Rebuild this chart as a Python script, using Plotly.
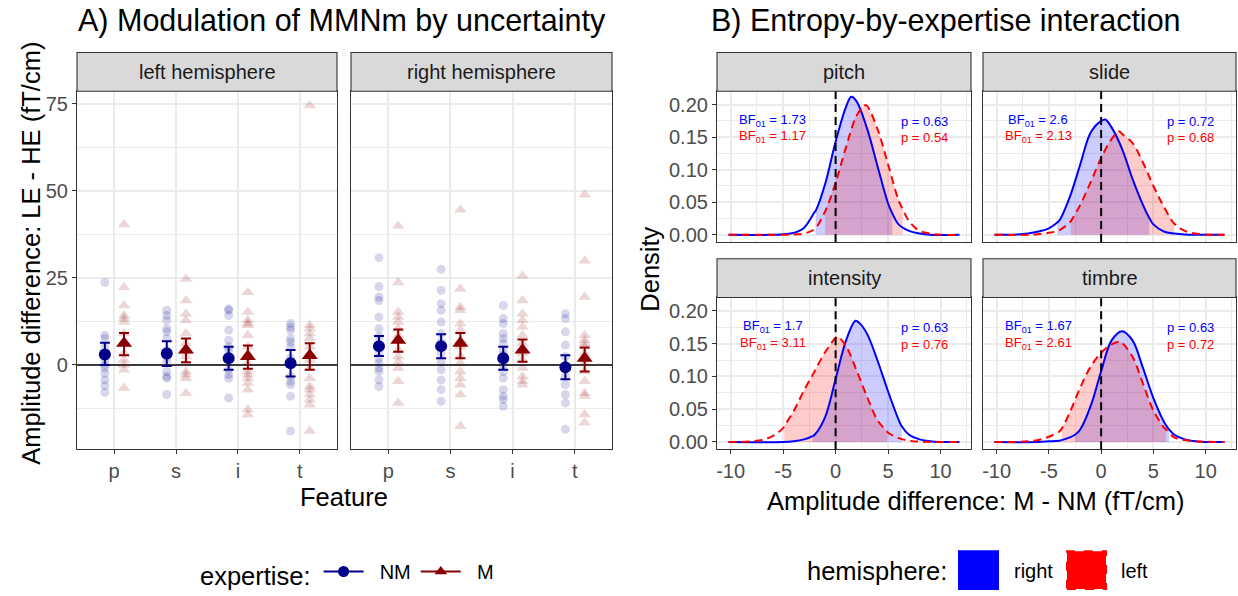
import plotly.graph_objects as go

W, H = 1238, 596
FONT = "Liberation Sans, Arial, sans-serif"

FEATURES = ["p", "s", "i", "t"]
HEMISPHERES = ["left hemisphere", "right hemisphere"]
EXPERTISE = ["NM", "M"]

# single participants, LE - HE (fT/cm); one list per feature p, s, i, t
NM_LEFT = [
    [23.7, 8.5, 7.6, 5.2, 2.8, 1.4, 0.0, -0.9, -2.4, -4.3, -6.0, -7.9],
    [15.7, 14.2, 12.8, 10.4, 9.5, 7.6, 4.3, 2.4, 0.9, -1.9, -3.3, -3.8, -8.5],
    [16.1, 15.7, 14.2, 10.0, 7.1, 5.2, 4.3, 1.9, -1.4, -2.8, -3.8, -9.5],
    [11.9, 10.9, 10.0, 7.6, 6.6, 5.2, 1.9, 0.0, -3.3, -4.7, -5.7, -9.0, -19.0],
]
M_LEFT = [
    [40.3, 22.3, 17.1, 14.2, 13.3, 12.3, 9.0, 6.2, 3.3, 1.4, 0.0, -1.4, -6.6],
    [24.7, 18.5, 14.7, 12.8, 9.0, 6.2, 3.8, 2.4, 0.5, -1.9, -2.8, -3.8, -8.1],
    [20.9, 15.2, 12.8, 11.9, 11.4, 8.5, 5.2, 3.3, 0.5, -1.9, -2.8, -3.8, -5.2, -7.1, -12.8, -14.2],
    [74.5, 11.4, 10.4, 9.0, 7.6, 5.2, 3.3, 1.4, -0.9, -3.8, -6.2, -7.1, -8.5, -10.0, -11.4, -19.0],
]
NM_RIGHT = [
    [30.8, 22.5, 19.5, 18.5, 13.8, 10.4, 8.1, 3.8, 1.9, 0.5, -0.9, -1.9, -4.3, -6.2],
    [27.5, 21.4, 17.6, 15.7, 12.3, 9.0, 6.6, 5.2, 3.3, 0.9, -1.4, -4.3, -7.1, -10.4],
    [17.1, 13.3, 11.9, 9.0, 7.6, 6.2, 4.3, 2.8, 0.0, -1.9, -3.8, -7.1, -9.0, -10.0, -11.9],
    [14.7, 13.3, 9.5, 5.7, 2.4, -3.3, -5.7, -8.5, -10.9, -18.5],
]
M_RIGHT = [
    [39.9, 23.7, 15.2, 13.8, 12.3, 10.4, 8.5, 7.1, 4.3, 2.4, 0.9, -0.9, -4.7, -10.9],
    [44.6, 21.8, 16.6, 15.7, 11.9, 10.0, 7.1, 5.2, 2.4, 0.5, -1.9, -3.8, -5.7, -8.5, -17.6],
    [25.6, 18.5, 14.7, 12.8, 10.9, 8.5, 6.2, 3.3, 1.4, -0.9, -3.3, -4.7, -5.7],
    [48.9, 29.9, 19.5, 8.5, 7.1, 6.2, 5.2, 3.3, 0.5, -1.9, -4.7, -8.1, -9.0, -14.2, -16.6],
]

# group means with error bar limits
NM_MEAN_LEFT = [3.0, 3.3, 1.9, 0.5]
NM_LOW_LEFT = [0.0, -0.3, -1.4, -3.3]
NM_HIGH_LEFT = [6.4, 6.8, 5.2, 4.3]
M_MEAN_LEFT = [6.2, 4.3, 2.4, 2.7]
M_LOW_LEFT = [2.8, 0.8, -1.1, -1.4]
M_HIGH_LEFT = [9.2, 7.6, 5.6, 6.2]
NM_MEAN_RIGHT = [5.4, 5.4, 1.9, -0.7]
NM_LOW_RIGHT = [2.6, 1.9, -1.4, -4.1]
NM_HIGH_RIGHT = [8.3, 8.8, 5.2, 2.8]
M_MEAN_RIGHT = [7.1, 6.2, 4.3, 1.9]
M_LOW_RIGHT = [3.8, 1.9, 0.9, -1.9]
M_HIGH_RIGHT = [10.2, 9.2, 7.3, 5.0]

# posterior densities of M - NM, right (blue) and left (red) hemisphere
FEATURE_NAMES = ["pitch", "slide", "intensity", "timbre"]

PITCH_R_X = [-10.2, -6, -5, -4, -3, -2, -1.9, -1, 0, 1, 1.5, 2, 3, 4, 5, 5.4, 6, 7, 8, 9, 11.8]
PITCH_R_Y = [0, 0, 0.001, 0.003, 0.011, 0.035, 0.037, 0.078, 0.143, 0.197, 0.212, 0.205, 0.163, 0.105, 0.048, 0.033, 0.016, 0.006, 0.002, 0, 0]
PITCH_L_X = [-10.2, -5, -4, -3, -2, -1, 0, 1, 2, 2.8, 3, 4, 5, 6, 6.4, 7, 8, 9, 10, 11.8]
PITCH_L_Y = [0, 0, 0.0005, 0.002, 0.009, 0.036, 0.080, 0.135, 0.183, 0.199, 0.198, 0.162, 0.108, 0.053, 0.039, 0.021, 0.006, 0.002, 0, 0]

SLIDE_R_X = [-10.2, -8, -7, -6, -5, -4.2, -4, -3, -2, -1, 0, 0.4, 1, 2, 3, 4, 4.6, 5, 6, 7, 8, 9, 11.8]
SLIDE_R_Y = [0, 0.0005, 0.002, 0.005, 0.010, 0.019, 0.022, 0.058, 0.108, 0.157, 0.175, 0.177, 0.165, 0.132, 0.086, 0.046, 0.026, 0.016, 0.005, 0.002, 0.0005, 0, 0]
SLIDE_L_X = [-10.2, -7, -6, -5, -4, -3, -2.9, -2, -1, 0, 1, 1.7, 2, 3, 4, 5, 6, 7, 8, 9, 10, 11.8]
SLIDE_L_Y = [0, 0, 0.001, 0.003, 0.007, 0.019, 0.021, 0.046, 0.081, 0.118, 0.147, 0.159, 0.155, 0.141, 0.111, 0.075, 0.043, 0.017, 0.006, 0.002, 0.0005, 0]

INTENSITY_R_X = [-10.2, -5, -4, -3, -2.2, -2, -1, 0, 1, 1.9, 2.3, 3, 4, 5, 6, 6.3, 7, 8, 9, 10, 11.8]
INTENSITY_R_Y = [0, 0, 0.001, 0.004, 0.009, 0.011, 0.038, 0.096, 0.155, 0.185, 0.181, 0.165, 0.124, 0.077, 0.034, 0.024, 0.011, 0.004, 0.001, 0, 0]
INTENSITY_L_X = [-10.2, -9, -8, -7, -6, -5, -4.9, -4, -3, -2, -1, 0, 0.2, 1, 2, 3, 4, 4.9, 5, 6, 7, 8, 11.8]
INTENSITY_L_Y = [0, 0, 0.001, 0.003, 0.009, 0.021, 0.024, 0.047, 0.079, 0.108, 0.137, 0.159, 0.161, 0.146, 0.109, 0.069, 0.033, 0.016, 0.014, 0.006, 0.002, 0.0005, 0]

TIMBRE_R_X = [-10.2, -6, -5, -4, -3, -2.5, -2, -1, 0, 1, 2, 3, 4, 5, 6, 6.5, 7, 8, 9, 10, 11.8]
TIMBRE_R_Y = [0, 0, 0.001, 0.002, 0.007, 0.011, 0.019, 0.055, 0.108, 0.155, 0.169, 0.155, 0.113, 0.067, 0.031, 0.019, 0.011, 0.004, 0.001, 0, 0]
TIMBRE_L_X = [-10.2, -8, -7, -6, -5, -4, -3.75, -3, -2, -1, 0, 1, 1.7, 2, 3, 4, 5, 6, 6.2, 7, 8, 9, 11.8]
TIMBRE_L_Y = [0, 0, 0.001, 0.003, 0.008, 0.016, 0.021, 0.045, 0.083, 0.115, 0.136, 0.149, 0.153, 0.151, 0.130, 0.089, 0.048, 0.022, 0.019, 0.007, 0.003, 0.001, 0]

# shaded intervals (pitch, slide, intensity, timbre)
RIGHT_FILL_LO = [-1.9, -4.2, -2.2, -2.5]
RIGHT_FILL_HI = [5.4, 4.6, 6.3, 6.5]
LEFT_FILL_LO = [-1.0, -2.9, -4.9, -3.75]
LEFT_FILL_HI = [6.4, 7.0, 4.9, 6.2]

BF_RIGHT = ["1.73", "2.6", "1.7", "1.67"]
BF_LEFT = ["1.17", "2.13", "3.11", "2.61"]
P_RIGHT = ["0.63", "0.72", "0.63", "0.63"]
P_LEFT = ["0.54", "0.68", "0.76", "0.72"]

NM_COL = "#00008B"
M_COL = "#8B0000"
GRID = "#EBEBEB"
BORDER = "#333333"
NBSP = "\u00a0"


def fx(p):
    return p / W


def fy(p):
    return 1 - p / H


def axis(**kw):
    a = dict(showline=True, mirror=True, linecolor=BORDER, linewidth=1.1,
             showgrid=True, gridcolor=GRID, gridwidth=1.5, zeroline=False,
             ticks="outside", ticklen=4, tickwidth=1.1, tickcolor=BORDER,
             tickfont=dict(size=20, color="#4D4D4D", family=FONT))
    a.update(kw)
    return a


fig = go.Figure()

# ---- panel A ----
groups = [
    (NM_LEFT, M_LEFT, NM_MEAN_LEFT, NM_LOW_LEFT, NM_HIGH_LEFT, M_MEAN_LEFT, M_LOW_LEFT, M_HIGH_LEFT),
    (NM_RIGHT, M_RIGHT, NM_MEAN_RIGHT, NM_LOW_RIGHT, NM_HIGH_RIGHT, M_MEAN_RIGHT, M_LOW_RIGHT, M_HIGH_RIGHT),
]
for h, (nm_pts, m_pts, nm_mean, nm_lo, nm_hi, m_mean, m_lo, m_hi) in enumerate(groups):
    xa = "x" if h == 0 else "x2"
    ya = "y" if h == 0 else "y2"
    # zero reference line
    fig.add_trace(go.Scatter(x=[0.4, 4.6], y=[0, 0], mode="lines", xaxis=xa, yaxis=ya,
                             line=dict(color="black", width=1.6), showlegend=False,
                             hoverinfo="skip"))
    for pts, off, col, sym, size in [(nm_pts, -0.15, NM_COL, "circle", 9),
                                     (m_pts, 0.16, M_COL, "triangle-up", 11)]:
        xs, ys = [], []
        for i, vals in enumerate(pts):
            xs += [i + 1 + off] * len(vals)
            ys += vals
        fig.add_trace(go.Scatter(x=xs, y=ys, mode="markers", xaxis=xa, yaxis=ya,
                                 marker=dict(color=col, symbol=sym, size=size, opacity=0.16),
                                 showlegend=False, hoverinfo="y"))
    for mean, lo, hi, off, col, sym, size in [(nm_mean, nm_lo, nm_hi, -0.15, NM_COL, "circle", 12),
                                              (m_mean, m_lo, m_hi, 0.16, M_COL, "triangle-up", 14)]:
        fig.add_trace(go.Scatter(
            x=[i + 1 + off for i in range(len(mean))], y=mean, mode="markers",
            xaxis=xa, yaxis=ya, showlegend=False,
            marker=dict(color=col, symbol=sym, size=size),
            error_y=dict(type="data", symmetric=False,
                         array=[b - m for m, b in zip(mean, hi)],
                         arrayminus=[m - a for m, a in zip(mean, lo)],
                         color=col, thickness=2, width=5)))

# legend entries for expertise
for name, col, sym in [("NM", NM_COL, "circle"), ("M", M_COL, "triangle-up")]:
    fig.add_trace(go.Scatter(x=[None], y=[None], mode="lines+markers", name=NBSP * 2 + name,
                             line=dict(color=col, width=2),
                             marker=dict(color=col, symbol=sym, size=11)))

# ---- panel B ----
curves = [
    (PITCH_R_X, PITCH_R_Y, PITCH_L_X, PITCH_L_Y),
    (SLIDE_R_X, SLIDE_R_Y, SLIDE_L_X, SLIDE_L_Y),
    (INTENSITY_R_X, INTENSITY_R_Y, INTENSITY_L_X, INTENSITY_L_Y),
    (TIMBRE_R_X, TIMBRE_R_Y, TIMBRE_L_X, TIMBRE_L_Y),
]
for k, (rx, ry, lx, ly) in enumerate(curves):
    xa, ya = "x%d" % (k + 3), "y%d" % (k + 3)
    for cx, cy, lo, hi, fc in [(rx, ry, RIGHT_FILL_LO[k], RIGHT_FILL_HI[k], "rgba(0,0,255,0.2)"),
                               (lx, ly, LEFT_FILL_LO[k], LEFT_FILL_HI[k], "rgba(255,0,0,0.2)")]:
        sel = [(a, b) for a, b in zip(cx, cy) if lo <= a <= hi]
        fig.add_trace(go.Scatter(x=[a for a, _ in sel], y=[b for _, b in sel], xaxis=xa, yaxis=ya,
                                 mode="lines", fill="tozeroy", fillcolor=fc,
                                 line=dict(width=0, shape="spline"), showlegend=False,
                                 hoverinfo="skip"))
    fig.add_trace(go.Scatter(x=rx, y=ry, xaxis=xa, yaxis=ya, mode="lines", showlegend=False,
                             line=dict(color="#0000FF", width=2, shape="spline")))
    fig.add_trace(go.Scatter(x=lx, y=ly, xaxis=xa, yaxis=ya, mode="lines", showlegend=False,
                             line=dict(color="#FF0000", width=2, shape="spline", dash="8px,5px")))

# ---- layout ----
A_Y = [92, 453]
panels_a = [(77, 337), (351, 612)]
panels_b = [((717, 971), (92, 244)), ((983, 1236), (92, 244)),
            ((717, 971), (300, 453)), ((983, 1236), (300, 453))]

lay = {}
for h, (x0, x1) in enumerate(panels_a):
    sx = "" if h == 0 else "2"
    lay["xaxis" + sx] = axis(domain=[fx(x0), fx(x1)], anchor="y" + sx, range=[0.4, 4.6],
                             tickvals=[1, 2, 3, 4], ticktext=FEATURES)
    lay["yaxis" + sx] = axis(domain=[fy(A_Y[1]), fy(A_Y[0])], anchor="x" + sx, range=[-24.2, 78.6],
                             tickvals=[0, 25, 50, 75],
                             minor=dict(dtick=12.5, tick0=0, showgrid=True, gridcolor=GRID,
                                        gridwidth=0.8, ticks=""),
                             showticklabels=(h == 0), ticks="outside" if h == 0 else "")

dx = [-10, -5, 0, 5, 10]
dy = [0, 0.05, 0.10, 0.15, 0.20]
for k, ((x0, x1), (y0, y1)) in enumerate(panels_b):
    n = str(k + 3)
    bottom = k >= 2
    left = k % 2 == 0
    lay["xaxis" + n] = axis(domain=[fx(x0), fx(x1)], anchor="y" + n, range=[-11.3, 12.9],
                            tickvals=dx, ticktext=[str(v) for v in dx],
                            minor=dict(dtick=2.5, tick0=0, showgrid=True, gridcolor=GRID,
                                       gridwidth=0.8, ticks=""),
                            showticklabels=bottom, ticks="outside" if bottom else "")
    lay["yaxis" + n] = axis(domain=[fy(y1), fy(y0)], anchor="x" + n, range=[-0.011, 0.2205],
                            tickvals=dy, ticktext=["%.2f" % v for v in dy],
                            minor=dict(dtick=0.025, tick0=0, showgrid=True, gridcolor=GRID,
                                       gridwidth=0.8, ticks=""),
                            showticklabels=left, ticks="outside" if left else "")

shapes, annotations = [], []

# strips
strips = [((77, 337), (53, 92), HEMISPHERES[0]), ((351, 612), (53, 92), HEMISPHERES[1])]
for k, ((x0, x1), (y0, y1)) in enumerate(panels_b):
    strips.append(((x0, x1), (y0 - 39, y0), FEATURE_NAMES[k]))
for (x0, x1), (y0, y1), label in strips:
    shapes.append(dict(type="rect", xref="paper", yref="paper", x0=fx(x0), x1=fx(x1),
                       y0=fy(y1), y1=fy(y0), fillcolor="#D9D9D9",
                       line=dict(color=BORDER, width=1.1), layer="above"))
    annotations.append(dict(xref="paper", yref="paper", x=fx((x0 + x1) / 2), y=fy((y0 + y1) / 2),
                            text=label, showarrow=False, xanchor="center", yanchor="middle",
                            font=dict(size=20, color="#1A1A1A", family=FONT)))

# x = 0 in panel B, with Bayes factors and p values
for k in range(4):
    n = str(k + 3)
    shapes.append(dict(type="line", xref="x" + n, yref="y" + n + " domain", x0=0, x1=0,
                       y0=0, y1=1, line=dict(color="black", width=2, dash="8px,5px"),
                       layer="above"))
    annotations += [
        dict(xref="x" + n, yref="y" + n, x=-6, y=0.176, text="BF<sub>01</sub> = " + BF_RIGHT[k],
             showarrow=False, font=dict(size=13, color="#0000FF", family=FONT)),
        dict(xref="x" + n, yref="y" + n, x=-6, y=0.151, text="BF<sub>01</sub> = " + BF_LEFT[k],
             showarrow=False, font=dict(size=13, color="#FF0000", family=FONT)),
        dict(xref="x" + n, yref="y" + n, x=8.5, y=0.174, text="p = " + P_RIGHT[k],
             showarrow=False, font=dict(size=13, color="#0000FF", family=FONT)),
        dict(xref="x" + n, yref="y" + n, x=8.5, y=0.149, text="p = " + P_LEFT[k],
             showarrow=False, font=dict(size=13, color="#FF0000", family=FONT)),
    ]

# titles
txt = dict(size=25.5, color="black", family=FONT)
annotations += [
    dict(xref="paper", yref="paper", x=fx(76), y=fy(21), xanchor="left", yanchor="middle",
         text="A) Modulation of MMNm by uncertainty", showarrow=False,
         font=dict(size=30.5, color="black", family=FONT)),
    dict(xref="paper", yref="paper", x=fx(709), y=fy(21), xanchor="left", yanchor="middle",
         text="B) Entropy-by-expertise interaction", showarrow=False,
         font=dict(size=30.5, color="black", family=FONT)),
    dict(xref="paper", yref="paper", x=fx(31), y=fy(256), text="Amplitude difference: LE - HE (fT/cm)",
         textangle=-90, showarrow=False, font=txt, xanchor="center", yanchor="middle"),
    dict(xref="paper", yref="paper", x=fx(344), y=fy(501), text="Feature",
         showarrow=False, font=txt, xanchor="center", yanchor="middle"),
    dict(xref="paper", yref="paper", x=fx(650), y=fy(272), text="Density",
         textangle=-90, showarrow=False, font=txt, xanchor="center", yanchor="middle"),
    dict(xref="paper", yref="paper", x=fx(976), y=fy(505), text="Amplitude difference: M - NM (fT/cm)",
         showarrow=False, font=txt, xanchor="center", yanchor="middle"),
]

# hemisphere legend
annotations.append(dict(xref="paper", yref="paper", x=fx(805), y=fy(576), xanchor="left",
                        yanchor="middle", text="hemisphere:", showarrow=False, font=txt))
for (x0, x1), col, dash, label, lx in [((959, 998), "#0000FF", "solid", "right", 1012),
                                       ((1067, 1106), "#FF0000", "dash", "left", 1119)]:
    shapes.append(dict(type="rect", xref="paper", yref="paper", x0=fx(x0), x1=fx(x1),
                       y0=fy(594), y1=fy(556), fillcolor=col,
                       line=dict(color=col, width=2, dash=dash)))
    annotations.append(dict(xref="paper", yref="paper", x=fx(lx), y=fy(576), xanchor="left",
                            yanchor="middle", text=label, showarrow=False,
                            font=dict(size=20, color="black", family=FONT)))

fig.update_layout(
    **lay,
    width=W, height=H,
    margin=dict(l=0, r=0, t=0, b=0),
    paper_bgcolor="white", plot_bgcolor="white",
    font=dict(family=FONT, color="black"),
    shapes=shapes, annotations=annotations,
    showlegend=True,
    legend=dict(orientation="h", x=fx(198), y=fy(579), xanchor="left", yanchor="middle",
                title=dict(text="expertise:", font=dict(size=25.5, family=FONT), side="left"),
                font=dict(size=20, family=FONT, color="black"), bgcolor="rgba(0,0,0,0)",
                itemsizing="trace", itemwidth=40),
)

fig.write_html("out.html", config={"displayModeBar": False},
               post_script="document.body.style.margin='0';")
